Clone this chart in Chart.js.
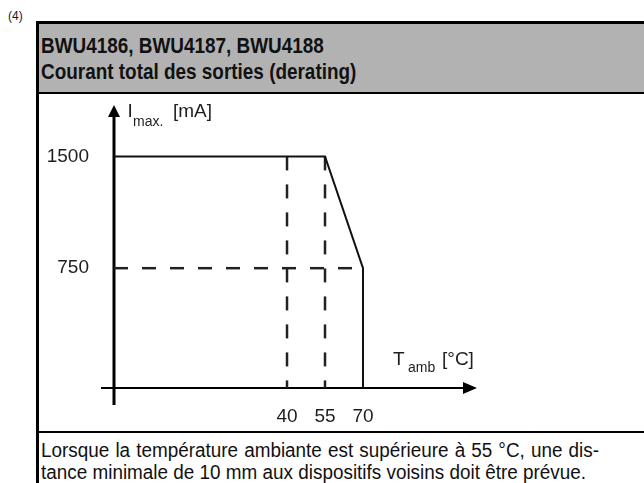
<!DOCTYPE html>
<html>
<head>
<meta charset="utf-8">
<script src="https://cdn.jsdelivr.net/npm/chart.js@4.4.1/dist/chart.umd.min.js"></script>
<style>
  html, body { margin: 0; padding: 0; background: #fff; }
  body {
    width: 644px; height: 483px; overflow: hidden; position: relative;
    font-family: "Liberation Sans", Arial, sans-serif; color: #1a1a1a;
  }
  .fig-num { position: absolute; left: 8px; top: 9px; font-size: 12px; }
  .box {
    position: absolute; left: 36px; top: 21px; width: 700px; height: 500px;
    border-left: 3px solid #000; border-top: 3px solid #000;
  }
  .box-head {
    position: absolute; left: 0; top: 0; right: 0; height: 68px;
    background: #b2b2b2; border-bottom: 2px solid #000;
  }
  .head-text {
    position: absolute; left: 2px; top: 9px; white-space: nowrap;
    font-weight: bold; font-size: 22px; line-height: 26px; color: #111;
    transform: scaleX(0.86); transform-origin: 0 0;
  }
  .sep { position: absolute; left: 0; top: 407px; right: 0; height: 2px; background: #000; }
  .foot-text {
    position: absolute; left: 2px; top: 415px;
    font-size: 20px; line-height: 22px; color: #111;
    transform-origin: 0 0;
  }
  .foot-text div { white-space: nowrap; }
  .foot-text .just { text-align: justify; text-align-last: justify; }
  #chart { position: absolute; left: 36px; top: 94px; }
</style>
</head>
<body>
<div class="fig-num">(4)</div>
<div class="box">
  <div class="box-head">
    <div class="head-text">BWU4186, BWU4187, BWU4188<br>Courant total des sorties (derating)</div>
  </div>
  <div class="sep"></div>
  <div class="foot-text" id="foot">
    <div class="just" id="foot1">Lorsque la température ambiante est supérieure à 55 °C, une dis-</div>
    <div><span id="foot2">tance minimale de 10 mm aux dispositifs voisins doit être prévue.</span></div>
  </div>
</div>
<canvas id="chart" width="608" height="337"></canvas>

<script>
// ---- data (schematic derating curve) ----
const xTicks = [40, 55, 70];          // T_amb [°C]
const yTicks = [750, 1500];           // I_max [mA]
const xMin = -28.3, xMax = 115;       // axis ends (schematic, not to scale)
const yMin = -54, yMax = 1845;

const curveTemp = [xMin, 55, 70, 70];
const curveCurrent = [1500, 1500, 750, yMin];

const guide750Temp = [xMin, 70];
const guide750Current = [750, 750];
const guide40Temp = [40, 40];
const guide40Current = [1500, yMin];
const guide55Temp = [55, 55];
const guide55Current = [1500, yMin];

const FONT = '"Liberation Sans", Arial, sans-serif';

// ---- footer: narrow text, first line justified (as in the datasheet) ----
function fitFooter() {
  const foot = document.getElementById('foot');
  const line1 = document.getElementById('foot1');
  const w2 = document.getElementById('foot2').getBoundingClientRect().width;
  const sx = 545 / w2;
  foot.style.transform = 'scaleX(' + sx + ')';
  line1.style.width = (558 / sx) + 'px';
  line1.style.whiteSpace = 'normal';
}
fitFooter();

function toPoints(xs, ys) {
  return xs.map((x, i) => ({ x, y: ys[i] }));
}

function dashed(xs, ys) {
  return {
    data: toPoints(xs, ys),
    showLine: true,
    borderColor: '#222',
    borderWidth: 2.5,
    borderDash: [14, 14],
    pointRadius: 0,
    order: 2,
  };
}

// ---- axes with arrow heads + axis titles ----
const arrowAxes = {
  id: 'arrowAxes',
  beforeDatasetsDraw(chart) {
    const { ctx, chartArea: a } = chart;
    ctx.save();
    ctx.strokeStyle = '#000';
    ctx.fillStyle = '#000';

    // vertical axis
    ctx.lineWidth = 3;
    ctx.beginPath();
    ctx.moveTo(a.left, a.bottom + 17);
    ctx.lineTo(a.left, a.top + 8);
    ctx.stroke();
    ctx.beginPath();
    ctx.moveTo(a.left, a.top);
    ctx.lineTo(a.left - 6, a.top + 12);
    ctx.lineTo(a.left + 6, a.top + 12);
    ctx.closePath();
    ctx.fill();

    // horizontal axis
    ctx.lineWidth = 2;
    ctx.beginPath();
    ctx.moveTo(a.left - 13, a.bottom);
    ctx.lineTo(a.right - 8, a.bottom);
    ctx.stroke();
    ctx.beginPath();
    ctx.moveTo(a.right, a.bottom);
    ctx.lineTo(a.right - 14, a.bottom - 6);
    ctx.lineTo(a.right - 14, a.bottom + 6);
    ctx.closePath();
    ctx.fill();
    ctx.restore();
  },
  afterDraw(chart) {
    const { ctx, chartArea: a } = chart;
    ctx.save();
    ctx.fillStyle = '#1e1e1e';
    ctx.textBaseline = 'alphabetic';
    ctx.textAlign = 'left';

    ctx.font = '19px ' + FONT;
    ctx.fillText('I', a.left + 13.5, a.top + 12);
    ctx.fillText('[mA]', a.left + 59, a.top + 12);
    ctx.font = '14px ' + FONT;
    ctx.fillText('max.', a.left + 19, a.top + 21);

    ctx.font = '19px ' + FONT;
    ctx.fillText('T', a.right - 84, a.bottom - 23);
    ctx.fillText('[°C]', a.right - 35, a.bottom - 23);
    ctx.font = '14px ' + FONT;
    ctx.fillText('amb', a.right - 69, a.bottom - 16);
    ctx.restore();
  }
};

new Chart(document.getElementById('chart'), {
  type: 'scatter',
  data: {
    datasets: [
      {
        data: toPoints(curveTemp, curveCurrent),
        showLine: true,
        borderColor: '#111',
        borderWidth: 2,
        pointRadius: 0,
        order: 1,
      },
      dashed(guide750Temp, guide750Current),
      dashed(guide40Temp, guide40Current),
      dashed(guide55Temp, guide55Current),
    ]
  },
  options: {
    responsive: false,
    animation: false,
    clip: false,
    layout: { padding: { left: 0, top: 11, right: 167, bottom: 3 } },
    plugins: { legend: { display: false }, tooltip: { enabled: false } },
    scales: {
      x: {
        type: 'linear',
        min: xMin,
        max: xMax,
        grid: { display: false },
        border: { display: false },
        afterBuildTicks: s => { s.ticks = xTicks.map(v => ({ value: v })); },
        afterFit: s => { s.height = 40; s.paddingLeft = 0; s.paddingRight = 0; },
        ticks: {
          autoSkip: false, padding: 9, color: '#1e1e1e',
          font: { family: FONT, size: 19 },
          callback: v => String(v)
        }
      },
      y: {
        type: 'linear',
        min: yMin,
        max: yMax,
        grid: { display: false },
        border: { display: false },
        afterBuildTicks: s => { s.ticks = yTicks.map(v => ({ value: v })); },
        afterFit: s => { s.width = 78; s.paddingTop = 0; s.paddingBottom = 0; },
        ticks: {
          autoSkip: false, padding: 17, color: '#1e1e1e',
          font: { family: FONT, size: 19 },
          callback: v => String(v)
        }
      }
    }
  },
  plugins: [arrowAxes]
});
</script>
</body>
</html>
